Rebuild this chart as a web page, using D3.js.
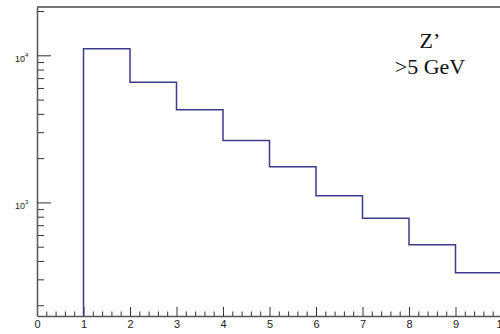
<!DOCTYPE html>
<html>
<head>
<meta charset="utf-8">
<script src="https://cdn.jsdelivr.net/npm/d3@7"></script>
<style>
  body { margin: 0; background: #fff; }
  svg { display: block; }
</style>
</head>
<body>
<div id="chart"></div>
<script>
// Histogram bins (lower edges) and counts
const binEdges = [1, 2, 3, 4, 5, 6, 7, 8, 9, 10];
const counts = [11100, 6550, 4270, 2640, 1745, 1110, 782, 515, 332];
const xTicks = [0, 1, 2, 3, 4, 5, 6, 7, 8, 9, 10];
const yDecades = [1000, 10000];
const labelLines = ["Z\u2019", ">5 GeV"];

const width = 500, height = 334;
const svg = d3.select("#chart").append("svg")
    .attr("width", width)
    .attr("height", height);

const x = d3.scaleLinear().domain([0, 10]).range([37, 502]);
const y = d3.scaleLog().domain([169, 21300]).range([316, 7]);

// Frame top line
svg.append("line")
    .attr("x1", 37).attr("x2", 502)
    .attr("y1", 7).attr("y2", 7)
    .attr("stroke", "#777")
    .attr("stroke-width", 2);

// X axis: minor then major ticks, pointing inward
const minorX = d3.range(0, 50).map(i => i * 0.2).filter(v => Math.abs(v - Math.round(v)) > 1e-6);
svg.append("g")
    .attr("transform", `translate(0,316)`)
    .call(d3.axisBottom(x).tickValues(minorX).tickSize(-4.5).tickFormat(""))
    .call(g => g.select(".domain").remove())
    .selectAll("line").attr("stroke", "#333");

const xAxis = svg.append("g")
    .attr("transform", `translate(0,316)`)
    .call(d3.axisBottom(x).tickValues(xTicks).tickSize(-9).tickSizeOuter(0).tickPadding(4));
xAxis.select(".domain").attr("stroke", "#555").attr("stroke-width", 1.5);
xAxis.selectAll("line").attr("stroke", "#333");
xAxis.selectAll("text")
    .style("font-family", "'Liberation Sans', Arial, sans-serif")
    .style("font-size", "11px")
    .attr("fill", "#222");

// Y axis: log ticks
const minorY = [];
[100, 1000, 10000].forEach(d => {
    for (let m = 2; m <= 9; m++) {
        const v = m * d;
        if (v > 169 && v < 21300) minorY.push(v);
    }
});
svg.append("g")
    .attr("transform", `translate(37,0)`)
    .call(d3.axisLeft(y).tickValues(minorY).tickSize(-7).tickFormat(""))
    .call(g => g.select(".domain").remove())
    .selectAll("line").attr("stroke", "#333");

const yAxis = svg.append("g")
    .attr("transform", `translate(37,0)`)
    .call(d3.axisLeft(y).tickValues(yDecades).tickSize(-14).tickSizeOuter(0).tickFormat(""));
yAxis.select(".domain").attr("stroke", "#555").attr("stroke-width", 1.5);
yAxis.selectAll("line").attr("stroke", "#333");

const yLabels = svg.append("g")
    .style("font-family", "'Liberation Sans', Arial, sans-serif")
    .attr("fill", "#222");
yDecades.forEach(v => {
    const t = yLabels.append("text")
        .attr("x", 15)
        .attr("y", y(v) + 6.5)
        .style("font-size", "9px");
    t.append("tspan").text("10");
    t.append("tspan")
        .attr("dy", -4.5)
        .style("font-size", "6px")
        .text(Math.round(Math.log10(v)));
});

// Histogram step line
const pts = [[x(binEdges[0]), y.range()[0]]];
counts.forEach((c, i) => {
    pts.push([x(binEdges[i]), y(c)]);
    pts.push([x(binEdges[i + 1]), y(c)]);
});
svg.append("path")
    .attr("d", d3.line()(pts))
    .attr("fill", "none")
    .attr("stroke", "#3b3b8a")
    .attr("stroke-width", 1.5);

// Annotation
svg.append("g")
    .selectAll("text")
    .data(labelLines)
    .join("text")
    .attr("x", 430)
    .attr("y", (d, i) => 48 + i * 25.5)
    .attr("text-anchor", "middle")
    .style("font-family", "'Liberation Serif', 'Times New Roman', serif")
    .style("font-size", "22px")
    .attr("fill", "#111")
    .text(d => d);
</script>
</body>
</html>
